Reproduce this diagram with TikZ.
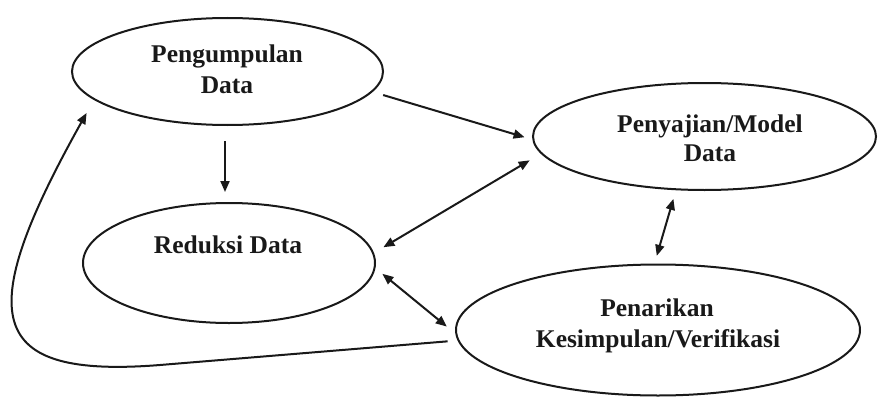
\documentclass[tikz,border=0pt]{standalone}
\usepackage{fontspec}
\setmainfont{Liberation Serif}
\usetikzlibrary{shapes.geometric,arrows.meta}
\begin{document}
\begin{tikzpicture}[x=1pt,y=-1pt,
  oval/.style={draw=black!90,line width=2pt,ellipse,inner sep=0pt},
  lbl/.style={anchor=base,inner sep=0pt,text=black!90,font=\fontsize{25.5}{30}\selectfont\bfseries},
  conn/.style={draw=black!90,line width=2pt,-{Triangle[length=11pt,width=9pt]}},
  bi/.style={draw=black!90,line width=2pt,{Triangle[length=11pt,width=9pt]}-{Triangle[length=11pt,width=9pt]}}]
\useasboundingbox (0,0) rectangle (880,396);
\node[oval,minimum width=311pt,minimum height=107pt] (e1) at (227.5,71.5) {};
\node[oval,minimum width=292pt,minimum height=120pt] (e2) at (229,263) {};
\node[oval,minimum width=343pt,minimum height=107pt] (e3) at (704.5,136.5) {};
\node[oval,minimum width=404pt,minimum height=131pt] (e4) at (658,330) {};
\node[lbl] (t1a) at (227,63) {Pengumpulan};
\node[lbl] (t1b) at (227,93) {Data};
\node[lbl] (t2) at (228,253) {Reduksi Data};
\node[lbl] (t3a) at (710,132) {Penyajian/Model};
\node[lbl] (t3b) at (710,161) {Data};
\node[lbl] (t4a) at (657,316) {Penarikan};
\node[lbl] (t4b) at (658,347) {Kesimpulan/Verifikasi};
\draw[conn,shorten <=15pt,shorten >=10pt] ([xshift=-2.5pt]e1.south) -- ([xshift=-4pt]e2.north);
\draw[conn,shorten <=11pt,shorten >=8pt] (e1.-8) -- (e3.181);
\draw[bi,shorten <=11pt,shorten >=13pt] (e2.4) -- (e3.186);
\draw[bi,shorten <=9pt,shorten >=11pt] (e2.-2) -- (e4.181);
\draw[bi,shorten <=9pt,shorten >=8pt] (e3.242) -- (e4.93);
\coordinate (bend) at (160,365);
\draw[conn,shorten <=10pt,shorten >=15pt] (e4.183) -- (bend) .. controls (-14.5,378.8) and (-27.75,317.3) .. (e1.192);
\end{tikzpicture}
\end{document}
